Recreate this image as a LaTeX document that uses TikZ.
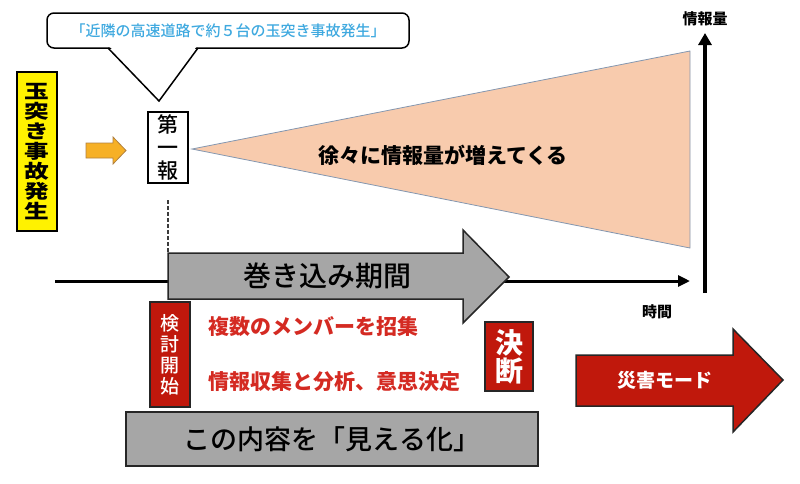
\documentclass[tikz,border=0pt]{standalone}
\usepackage{fontspec}
\setmainfont{Noto Sans CJK JP}
\newfontfamily\jpwide{Noto Sans CJK JP}[FakeStretch=1.3]
\newfontfamily\jpmed{Noto Sans CJK JP Medium}
\usetikzlibrary{arrows.meta}
\definecolor{calloutblue}{HTML}{3FA9DF}
\definecolor{peach}{HTML}{F8CBAD}
\definecolor{triborder}{HTML}{8497B0}
\definecolor{grayfill}{HTML}{A6A6A6}
\definecolor{darkred}{HTML}{C0180C}
\definecolor{redtext}{HTML}{D42A22}
\definecolor{orangefill}{HTML}{F6B026}
\definecolor{orangeline}{HTML}{B08040}
\definecolor{edge}{HTML}{262626}
\begin{document}
\begin{tikzpicture}[x=1pt,y=-1pt,line join=miter,
  box/.style={draw=black,line width=1.5pt,inner sep=0pt,align=center},
  redbox/.style={draw=edge,line width=1.5pt,fill=darkred,text=white,inner sep=0pt,align=center},
  label/.style={inner sep=0pt,align=center},
  blockarrow/.style={draw=edge,line width=1.5pt},
  axis/.style={line width=3pt,-{Triangle[length=12pt,width=11pt]}}]
\useasboundingbox (0,0) rectangle (800,483);

% callout
\node[draw=black,line width=1.5pt,rounded corners=7pt,minimum width=362pt,minimum height=35pt,inner sep=0pt,
  text=calloutblue,font=\jpmed\fontsize{15}{15}\selectfont] (callout) at (228,30.5) {「近隣の高速道路で約５台の玉突き事故発生」};
\fill[white] (109.5,46.5) -- (159,99.5) -- (196.5,46.5) -- cycle;
\coordinate (tailA) at (108,48);
\coordinate (tailB) at (198,48);
\coordinate (tailtip) at (159,101);
\draw[line width=1.5pt] (tailA) -- (tailtip) -- (tailB);

% accident box
\node[box,fill=yellow,minimum width=40pt,minimum height=159pt,
  font=\jpwide\fontsize{19}{20}\selectfont\bfseries] (accident) at (37,151.5) {玉\\突\\き\\事\\故\\発\\生};

% orange arrow
\draw[fill=orangefill,draw=orangeline,line width=0.8pt] (86,143) -- (113,143) -- (113,137) -- (126,150.5) -- (113,164) -- (113,158) -- (86,158) -- cycle;

% first report
\node[box,fill=white,minimum width=40pt,minimum height=71pt,
  font=\jpmed\fontsize{21}{23}\selectfont] (first) at (168,147.5) {第\\一\\報};

% information triangle
\coordinate (tritip) at (192,149);
\coordinate (tritop) at (690,51);
\coordinate (tribot) at (690,248);
\filldraw[fill=peach,draw=triborder,line width=0.8pt] (tritip) -- (tritop) -- (tribot) -- cycle;
\node[label,font=\fontsize{21}{21}\selectfont\bfseries] (grow) at (443,155) {徐々に情報量が増えてくる};

% axes
\coordinate (origin) at (55,281);
\coordinate (xend) at (690,281);
\coordinate (ybot) at (705,293);
\coordinate (ytop) at (705,33);
\draw[axis] (origin) -- (xend);
\draw[line width=4pt,-{Triangle[length=12pt,width=13pt]}] (ybot) -- (ytop);
\node[label,font=\fontsize{15}{15}\selectfont\bfseries] (ylab) at (705,19) {情報量};
\node[label,font=\fontsize{15}{15}\selectfont\bfseries] (xlab) at (657,312) {時間};

% dashed marker
\coordinate (d1) at (168,200);
\coordinate (d2) at (168,253);
\draw[line width=1.3pt,dash pattern=on 4pt off 2pt,edge!90] (d1) -- (d2);

% gray arrow
\draw[blockarrow,fill=grayfill] (168,253) -- (463,253) -- (463,230) -- (509,277) -- (463,323) -- (463,299) -- (168,299) -- cycle;
\node[label,font=\jpmed\fontsize{28}{28}\selectfont] (period) at (327,276) {巻き込み期間};

% review start
\node[redbox,minimum width=40pt,minimum height=105pt,font=\jpmed\fontsize{19}{21}\selectfont] (review) at (170,354.5) {検\\討\\開\\始};
\node[label,anchor=west,text=redtext,font=\fontsize{21}{21}\selectfont\bfseries] (t1) at (208,327) {複数のメンバーを招集};
\node[label,anchor=west,text=redtext,font=\fontsize{21}{21}\selectfont\bfseries] (t2) at (208,382) {情報収集と分析、意思決定};

% decision
\node[redbox,minimum width=48pt,minimum height=69pt,font=\fontsize{28}{28}\selectfont\bfseries] (decision) at (509,356.5) {決\\断};

% visualise
\node[box,draw=edge,fill=grayfill,minimum width=412pt,minimum height=54pt,font=\jpmed\fontsize{27}{27}\selectfont] (visual) at (332,439) {この内容を「見える化」};

% disaster mode arrow
\draw[blockarrow,fill=darkred] (576,355) -- (733,355) -- (733,329) -- (783,380) -- (733,432) -- (733,406) -- (576,406) -- cycle;
\node[label,text=white,font=\fontsize{19}{19}\selectfont\bfseries] (mode) at (665,380) {災害モード};
\end{tikzpicture}
\end{document}
